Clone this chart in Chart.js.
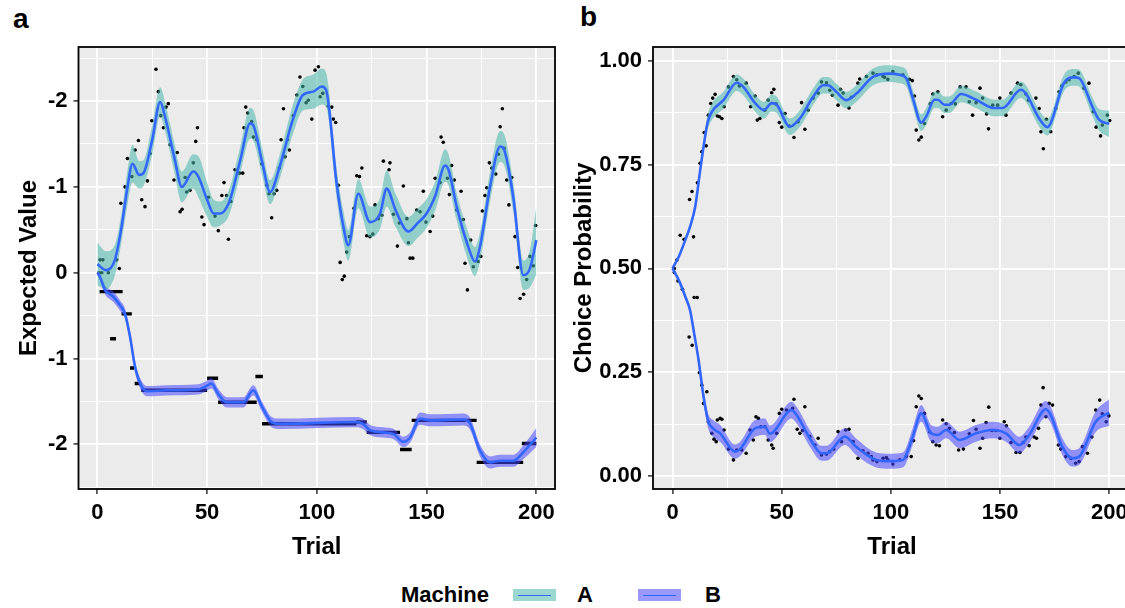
<!DOCTYPE html>
<html>
<head>
<meta charset="utf-8">
<script src="https://cdn.jsdelivr.net/npm/chart.js@4.4.1/dist/chart.umd.min.js"></script>
<style>
  body { margin: 0; background: #fff; width: 1125px; height: 608px; position: relative; overflow: hidden;
         font-family: "Liberation Sans", Arial, sans-serif; font-weight: bold; color: #000; }
  canvas { position: absolute; top: 0; }
  #panelA { left: 0; }
  #panelB { left: 565px; }
  .tag { position: absolute; font-size: 28px; line-height: 1; }
  .leg { position: absolute; font-size: 22px; line-height: 1; top: 584px; }
  .key { position: absolute; top: 589px; width: 43px; height: 12px; }
  .key i { position: absolute; left: 5px; right: 5px; top: 5.5px; height: 1px; background: #3366FF; }
</style>
</head>
<body>
<div class="tag" style="left:13px;top:5px">a</div>
<div class="tag" style="left:580px;top:3px">b</div>
<canvas id="panelA" width="565" height="565"></canvas>
<canvas id="panelB" width="600" height="565"></canvas>
<div class="leg" style="left:401px">Machine</div>
<div class="key" style="left:513px;background:rgba(72,182,172,0.55)"><i></i></div>
<div class="leg" style="left:577px">A</div>
<div class="key" style="left:638px;background:rgba(70,70,255,0.55)"><i></i></div>
<div class="leg" style="left:705px">B</div>
<script>
// ---- panel a : expected value ----
const evTrialA = [0,4,8,11,13.5,16,19,21,25,28.6,31,35,38.5,43.7,46,50,53,56,60,65,69.6,71,75,78.7,83,89,93.6,98.4,102.2,104.2,109,112,114.3,118.9,124.2,128.8,131.8,136,141.7,146,150,154,158.4,160,163.7,169,172,174.3,178.9,183.5,185,189.5,194.1,197.1,200];
const evMeanA = [0.10,0.03,0.15,0.53,0.96,1.27,1.14,1.16,1.55,1.99,1.80,1.35,1.00,1.18,1.12,0.85,0.69,0.69,0.82,1.30,1.74,1.72,1.30,0.94,1.23,1.78,2.07,2.11,2.17,2.13,1.04,0.55,0.32,0.92,0.59,0.69,0.98,0.72,0.48,0.58,0.69,0.90,1.25,1.20,0.77,0.30,0.13,0.30,1.00,1.47,1.45,0.88,-0.03,0.05,0.38];
const evSeA = [0.25,0.22,0.18,0.17,0.20,0.22,0.16,0.15,0.17,0.17,0.17,0.17,0.18,0.20,0.24,0.20,0.16,0.14,0.15,0.16,0.18,0.18,0.16,0.14,0.14,0.17,0.18,0.20,0.21,0.20,0.17,0.18,0.18,0.17,0.18,0.18,0.21,0.19,0.17,0.17,0.17,0.17,0.19,0.18,0.16,0.17,0.17,0.17,0.17,0.18,0.18,0.17,0.17,0.22,0.40];

const evTrialB = [0,1.2,3.5,7.3,10.3,12.6,14.9,17.2,19.5,22.5,31.6,46,49,52,55,59,66.5,71,75,79.4,83.2,118,121,124,130,135,139.4,142.5,147,151.6,166.7,169.8,174.3,178.9,183.5,189.5,194.1,200];
const evMeanB = [0.0,-0.05,-0.20,-0.28,-0.38,-0.48,-0.75,-1.10,-1.29,-1.38,-1.37,-1.36,-1.33,-1.29,-1.41,-1.51,-1.51,-1.37,-1.56,-1.74,-1.76,-1.74,-1.76,-1.83,-1.86,-1.88,-1.97,-1.92,-1.70,-1.72,-1.71,-1.76,-2.07,-2.21,-2.19,-2.19,-2.09,-1.92];
const evSeB = [0.03,0.04,0.05,0.06,0.06,0.06,0.06,0.06,0.06,0.06,0.06,0.06,0.06,0.06,0.06,0.06,0.06,0.06,0.06,0.06,0.06,0.06,0.06,0.06,0.06,0.06,0.06,0.06,0.07,0.07,0.07,0.07,0.07,0.07,0.07,0.07,0.08,0.11];

// observed points, machine A
const obsTrialA = [1.2,2.5,0.8,2.0,5.0,8.8,10,10.7,12.6,13.7,15.7,17.2,18.7,20.2,21.7,22.8,24.0,24.8,26.7,27.8,28.9,30.1,31.3,32.3,33.1,34.9,36.4,37.7,38.6,40.0,40.7,42.2,43.7,44.8,45.6,47.6,48.6,50.6,53.6,55.1,56.7,57.7,58.9,59.7,60.8,62.7,64.7,66.2,66.8,67.6,68.5,70.3,71.1,72.6,74.9,77.2,78.2,79.4,80.5,81.7,82.9,83.7,84.8,85.5,86.6,87.5,89.3,90.9,92.3,93.6,95.1,96.1,97.7,99.2,100.7,101.5,102.7,105.2,106.8,107.5,108.6,109.8,110.6,111.6,112.5,113.6,114.8,116.9,118.2,119.4,120.5,122.7,124.2,125.5,126.5,128.0,129.6,130.3,132.9,133.3,134.9,136.7,137.6,139.4,141.0,141.7,142.5,143.7,145.5,147.0,148.5,149.7,151.6,152.8,153.9,156.1,156.6,157.6,159.5,160.4,161.4,162.6,163.7,165.7,166.7,167.5,168.6,170.1,171.3,173.5,174.7,175.4,176.6,177.4,178.6,179.7,181.5,182.7,183.5,184.5,185.3,186.5,187.5,188.8,190.3,191.5,192.6,194.2,195.6,197.1,198.6,199.7];
const obsValA = [0.15,0.15,0.0,0.0,0.0,0.15,0.05,0.81,1.0,1.33,1.12,1.43,1.54,0.85,0.77,1.07,1.39,1.77,2.37,2.11,1.83,1.69,1.93,1.97,1.49,1.08,1.40,0.71,0.74,1.11,0.94,0.96,1.28,1.53,1.69,0.65,0.56,0.88,0.66,0.49,0.90,1.05,0.90,0.39,0.83,1.20,1.16,1.16,1.69,1.93,1.86,1.76,1.58,1.55,1.27,1.02,0.92,0.64,0.92,0.96,1.22,1.55,1.91,1.35,1.55,1.43,1.83,2.07,2.28,2.17,1.98,2.01,1.79,2.36,2.40,2.05,2.09,1.94,1.93,1.79,1.75,1.02,0.12,-0.08,-0.04,0.24,0.42,0.75,1.13,1.12,1.22,0.43,0.42,0.45,0.79,0.63,0.67,1.30,1.20,1.28,0.68,0.31,0.58,1.01,0.63,0.35,0.17,0.17,0.73,0.71,0.95,0.59,0.48,0.66,1.10,1.05,1.58,1.52,1.10,0.91,1.25,1.08,0.73,0.95,0.62,0.11,-0.20,0.38,0.07,0.13,0.19,0.72,0.90,0.99,1.28,1.22,1.15,1.38,1.70,1.91,1.45,1.08,0.79,1.11,0.42,0.06,-0.30,-0.25,-0.08,0.19,0.08,0.55];

// machine B values stay flat between choices: runs of equal observed value
const runStartB = [1,11,5.8,14.9,17,20,50,55,72,75,118,122.7,137.9,143.2,172.8,193.4];
const runEndB = [11.5,15.7,8.5,16.7,20,50,55,72.6,75.4,118,122.7,137.9,143.2,172.8,194,200];
const runValB = [-0.22,-0.48,-0.77,-1.11,-1.29,-1.37,-1.23,-1.51,-1.21,-1.76,-1.74,-1.86,-2.06,-1.72,-2.21,-1.99];

// ---- panel b : choice probability ----
const cpTrialA = [0,3,5.8,8,10.4,12.5,14.2,16,18,23.3,29.4,32.4,37.8,41.9,45.4,47.7,53.7,58.3,64,69,71.2,75,79.6,84.2,91.8,99.4,103.9,107,110,113.9,116.2,120,121.5,124.5,126.8,132.1,139,147.4,151.1,159.5,161.8,167.9,171.7,173.2,179.3,183.9,186.2,192.2,195.3,200];
const cpMeanA = [0.50,0.53,0.568,0.60,0.649,0.73,0.793,0.85,0.877,0.905,0.947,0.937,0.898,0.881,0.898,0.894,0.841,0.861,0.91,0.941,0.941,0.925,0.905,0.921,0.961,0.969,0.966,0.958,0.910,0.851,0.866,0.906,0.906,0.894,0.894,0.920,0.906,0.886,0.886,0.930,0.921,0.861,0.840,0.850,0.947,0.960,0.958,0.890,0.858,0.848];
const cpSeA = [0.004,0.005,0.006,0.008,0.01,0.012,0.015,0.018,0.02,0.02,0.02,0.02,0.02,0.02,0.02,0.02,0.02,0.02,0.02,0.02,0.02,0.02,0.02,0.02,0.02,0.02,0.02,0.02,0.02,0.02,0.02,0.02,0.02,0.02,0.02,0.02,0.02,0.02,0.02,0.02,0.02,0.02,0.02,0.02,0.02,0.02,0.02,0.022,0.026,0.032];

const cpTrialB = [0,3,6,8,10,11.9,14.2,16.4,18.5,21.8,28.6,30.9,37.8,42.3,44.6,54.5,56.8,63,68.2,70.5,78.9,84.2,93.3,99.4,105.5,110,113.9,118.4,121.4,125.3,131.4,139,146.6,152.7,158.8,163.3,171,173.2,178.5,183.1,186.2,193.8,200];
const cpMeanB = [0.50,0.47,0.43,0.40,0.34,0.28,0.191,0.131,0.115,0.103,0.059,0.065,0.115,0.119,0.102,0.159,0.147,0.090,0.055,0.055,0.095,0.070,0.039,0.036,0.039,0.095,0.151,0.103,0.099,0.111,0.087,0.103,0.111,0.103,0.075,0.099,0.161,0.147,0.071,0.043,0.047,0.131,0.153];
const cpSeB = [0.004,0.005,0.006,0.008,0.01,0.012,0.015,0.018,0.02,0.02,0.017,0.017,0.02,0.02,0.02,0.02,0.02,0.02,0.018,0.018,0.02,0.02,0.018,0.018,0.018,0.02,0.02,0.02,0.02,0.02,0.02,0.02,0.02,0.02,0.02,0.02,0.02,0.02,0.02,0.02,0.02,0.025,0.032];

const probTrialA = [0.8,2.0,3.5,5.3,7.8,8.9,9.6,11.4,12.6,13.4,14.5,15.4,16.4,17.5,18.4,19.5,20.5,21.5,22.6,23.6,25.6,27.9,29.4,30.6,33.7,35.8,37.8,38.8,40.0,42.3,43.8,45.4,46.4,47.4,48.9,50.0,51.5,53.4,55.6,57.5,59.1,60.6,62.1,64.4,66.7,68.2,70.5,72.0,73.2,75.8,76.9,78.1,80.8,81.9,84.9,85.7,88.8,91.8,93.6,97.1,96.4,98.6,100.9,105.5,108.5,109.8,110.8,111.6,112.8,113.9,115.4,118.0,119.2,121.5,123.7,125.3,127.6,129.5,131.7,134.4,135.9,137.4,139.0,140.8,142.0,143.8,144.7,146.6,148.9,149.9,152.7,155.0,158.0,159.5,161.8,163.0,166.4,167.9,168.7,169.8,171.2,173.2,175.5,177.0,178.3,180.1,181.6,183.9,185.8,188.4,190.7,192.6,194.0,196.0,196.8,199.1,200.2];
const probValA = [0.50,0.52,0.58,0.57,0.666,0.685,0.576,0.706,0.753,0.781,0.827,0.795,0.869,0.897,0.910,0.919,0.867,0.865,0.861,0.889,0.937,0.962,0.954,0.939,0.946,0.889,0.915,0.857,0.861,0.881,0.905,0.923,0.931,0.896,0.851,0.840,0.873,0.843,0.815,0.853,0.899,0.835,0.881,0.910,0.922,0.949,0.947,0.929,0.917,0.893,0.931,0.922,0.886,0.912,0.946,0.956,0.962,0.970,0.966,0.960,0.962,0.955,0.974,0.966,0.955,0.952,0.915,0.833,0.809,0.816,0.849,0.896,0.920,0.925,0.865,0.881,0.897,0.896,0.937,0.937,0.901,0.869,0.899,0.934,0.910,0.872,0.836,0.893,0.893,0.910,0.869,0.922,0.946,0.942,0.920,0.905,0.910,0.885,0.829,0.788,0.859,0.829,0.885,0.925,0.939,0.949,0.954,0.962,0.970,0.934,0.946,0.877,0.840,0.819,0.845,0.869,0.856];

const probTrialB = [0.8,2.5,4.5,7.6,9.0,9.9,11.3,12.3,13.4,15.7,14.2,16.4,18.0,19.0,20.0,20.5,21.8,22.6,23.6,25.6,27.9,29.4,31.7,33.7,35.5,37.0,38.2,39.3,40.4,42.3,43.8,45.4,46.1,47.7,48.9,50.0,52.2,55.0,55.6,57.1,58.3,59.5,60.6,62.9,65.2,66.7,68.2,70.5,72.0,73.8,75.8,77.4,79.3,80.8,82.7,84.9,87.2,89.5,91.8,93.6,97.9,91.0,96.4,98.6,100.9,104.0,107.0,109.3,110.4,111.6,112.8,113.9,115.4,117.7,119.2,120.7,122.2,123.7,125.3,126.8,129.1,131.0,133.2,135.9,137.8,139.0,140.8,142.0,143.6,144.8,146.3,148.1,149.9,151.9,152.9,155.0,157.3,159.1,160.6,161.8,163.3,165.6,166.7,167.6,168.7,169.7,171.0,172.5,174.0,176.7,177.8,180.1,182.4,184.6,186.2,187.7,190.0,192.0,193.8,195.6,196.8,198.6,199.8];
const probValB = [0.49,0.47,0.45,0.335,0.315,0.43,0.43,0.249,0.219,0.203,0.175,0.131,0.103,0.089,0.083,0.135,0.139,0.137,0.111,0.065,0.039,0.063,0.063,0.055,0.111,0.087,0.143,0.139,0.119,0.119,0.087,0.075,0.067,0.103,0.151,0.161,0.159,0.163,0.185,0.113,0.103,0.110,0.167,0.095,0.075,0.091,0.051,0.053,0.059,0.065,0.107,0.083,0.111,0.113,0.083,0.043,0.061,0.055,0.039,0.035,0.045,0.047,0.043,0.039,0.029,0.039,0.047,0.047,0.085,0.167,0.193,0.187,0.151,0.107,0.083,0.075,0.073,0.135,0.126,0.115,0.105,0.063,0.065,0.102,0.134,0.113,0.067,0.091,0.129,0.166,0.110,0.110,0.091,0.131,0.121,0.081,0.057,0.057,0.081,0.094,0.073,0.094,0.091,0.115,0.171,0.213,0.143,0.175,0.171,0.075,0.065,0.047,0.043,0.031,0.035,0.071,0.055,0.094,0.159,0.183,0.150,0.131,0.145];

const fam = '"Liberation Sans", Arial, sans-serif';
const fillA = 'rgba(72,182,172,0.55)';
const fillB = 'rgba(70,70,255,0.55)';
const smoothBlue = '#3366FF';

function smooth(trials, mean, se, fill) {
  const base = { pointRadius: 0, borderWidth: 0, cubicInterpolationMode: 'monotone', order: 2 };
  return [
    Object.assign({}, base, { data: trials.map((t, i) => ({ x: t, y: mean[i] - se[i] })), fill: false }),
    Object.assign({}, base, { data: trials.map((t, i) => ({ x: t, y: mean[i] + se[i] })), fill: '-1', backgroundColor: fill }),
    { data: trials.map((t, i) => ({ x: t, y: mean[i] })), pointRadius: 0, borderColor: smoothBlue,
      borderWidth: 2.6, cubicInterpolationMode: 'monotone', fill: false, order: 1 }
  ];
}

function dots(trials, vals) {
  return { data: trials.map((t, i) => ({ x: t, y: vals[i] })), showLine: false, pointRadius: 1.8,
           pointBorderWidth: 0, pointBackgroundColor: '#000', order: 3 };
}

function runs(starts, ends, vals) {
  const d = [];
  starts.forEach((s, i) => { d.push({ x: s, y: vals[i] }, { x: ends[i], y: vals[i] }, { x: ends[i], y: null }); });
  return { data: d, pointRadius: 0, borderColor: '#000', borderWidth: 3.4, spanGaps: false, order: 3 };
}

const panelFrame = {
  id: 'panelFrame',
  beforeDraw(chart) {
    const { ctx, chartArea: a } = chart;
    ctx.save();
    ctx.fillStyle = '#EBEBEB';
    ctx.fillRect(a.left, a.top, a.right - a.left, a.bottom - a.top);
    ctx.restore();
  },
  afterDraw(chart) {
    const { ctx, chartArea: a } = chart;
    ctx.save();
    ctx.strokeStyle = '#000';
    ctx.lineWidth = 1.8;
    ctx.strokeRect(a.left, a.top, a.right - a.left, a.bottom - a.top);
    ctx.restore();
  }
};

function axisX(min, max) {
  const major = c => c.tick && c.tick.value % 50 === 0;
  return {
    type: 'linear', min, max,
    afterFit: s => { s.height = 76; },
    border: { display: false },
    grid: { color: '#fff', lineWidth: c => major(c) ? 1.8 : 0.9, tickLength: 5, tickWidth: 1.5,
            tickColor: c => major(c) ? '#333' : 'rgba(0,0,0,0)' },
    ticks: { stepSize: 25, includeBounds: false, autoSkip: false, maxRotation: 0, padding: 6, color: '#000',
             font: { family: fam, size: 22, weight: 'bold' }, callback: v => v % 50 === 0 ? String(v) : '' },
    title: { display: true, text: 'Trial', color: '#000', font: { family: fam, size: 24, weight: 'bold' },
             padding: { top: 0, bottom: 3 } }
  };
}

function axisY(min, max, step, isMajor, label, title, width, pad) {
  return {
    min, max,
    afterFit: s => { s.width = width; },
    border: { display: false },
    grid: { color: '#fff', lineWidth: c => c.tick && isMajor(c.tick.value) ? 1.8 : 0.9, tickLength: 5, tickWidth: 1.5,
            tickColor: c => c.tick && isMajor(c.tick.value) ? '#333' : 'rgba(0,0,0,0)' },
    ticks: { stepSize: step, includeBounds: false, autoSkip: false, padding: 6, color: '#000',
             font: { family: fam, size: 22, weight: 'bold' }, callback: v => isMajor(v) ? label(v) : '' },
    title: { display: true, text: title, color: '#000', font: { family: fam, size: 24, weight: 'bold' },
             padding: { top: pad, bottom: 0 } }
  };
}

function makeChart(id, datasets, x, y, padRight) {
  return new Chart(document.getElementById(id), {
    type: 'line',
    data: { datasets },
    options: {
      responsive: false, animation: false, devicePixelRatio: 1,
      layout: { autoPadding: false, padding: { left: 0, top: 47, right: padRight, bottom: 0 } },
      plugins: { legend: { display: false }, tooltip: { enabled: false } },
      scales: { x, y }
    },
    plugins: [panelFrame]
  });
}

const isInt = v => Math.abs(v - Math.round(v)) < 1e-6;
makeChart('panelA',
  [dots(obsTrialA, obsValA), runs(runStartB, runEndB, runValB)]
    .concat(smooth(evTrialA, evMeanA, evSeA, fillA), smooth(evTrialB, evMeanB, evSeB, fillB)),
  axisX(-8.6, 208.5),
  axisY(-2.52, 2.63, 0.5, isInt, v => v === 0 ? '0' : '-' + Math.abs(Math.round(v)), 'Expected Value', 78.5, 14.6),
  10);

// panel b runs past the right edge of the figure, as in the original crop
const isQuarter = v => Math.abs(v * 4 - Math.round(v * 4)) < 1e-6;
makeChart('panelB',
  [dots(probTrialA, probValA), dots(probTrialB, probValB)]
    .concat(smooth(cpTrialA, cpMeanA, cpSeA, fillA), smooth(cpTrialB, cpMeanB, cpSeB, fillB)),
  axisX(-8.95, 209.95),
  axisY(-0.031, 1.033, 0.125, isQuarter, v => v.toFixed(2), 'Choice Probability', 88, 4.6),
  34);
</script>
</body>
</html>
